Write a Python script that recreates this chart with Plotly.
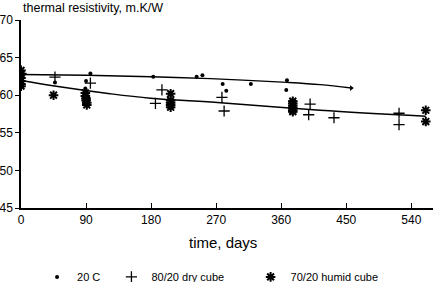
import plotly.graph_objects as go

# ---- data ----
c20_days = [0, 0, 0, 0, 47, 96, 90, 89, 183, 243, 251, 279, 284, 318, 368, 367]
c20_vals = [63.0, 62.5, 62.0, 61.6, 61.7, 62.9, 61.9, 60.9, 62.45, 62.45, 62.65, 61.5, 60.6, 61.5, 62.0, 60.7]

dry_days = [0, 47, 96, 195, 186, 278, 281, 400, 398, 433, 523, 523]
dry_vals = [62.9, 62.4, 61.6, 60.7, 58.9, 59.7, 57.9, 58.8, 57.4, 57.0, 57.6, 56.1]

humid_days = [0, 0, 0, 0, 0, 0, 45,
              89, 89, 90, 90, 91, 91,
              207, 207, 207, 207, 207,
              376, 376, 376, 376, 376, 376,
              560, 560]
humid_vals = [63.3, 62.8, 62.3, 61.9, 61.5, 61.2, 60.0,
              60.3, 59.9, 59.6, 59.3, 59.0, 58.7,
              60.2, 59.3, 59.0, 58.7, 58.4,
              59.2, 58.9, 58.6, 58.3, 58.0, 57.8,
              58.0, 56.5]

trend_upper_days = [0, 90, 180, 262, 368, 414, 457]
trend_upper_vals = [62.75, 62.65, 62.45, 62.2, 61.7, 61.4, 60.95]

trend_lower_days = [0, 44, 123, 179, 276, 414, 560]
trend_lower_vals = [61.95, 61.25, 60.2, 59.6, 59.0, 58.0, 57.2]

x_ticks = [0, 90, 180, 270, 360, 450, 540]
y_ticks = [45, 50, 55, 60, 65, 70]

FONT = "Liberation Sans"
NB = "\u00a0"

fig = go.Figure()

fig.add_trace(go.Scatter(x=trend_upper_days, y=trend_upper_vals, mode="lines",
                         line=dict(color="black", width=1.4, shape="spline"),
                         showlegend=False, hoverinfo="skip"))
fig.add_trace(go.Scatter(x=[trend_upper_days[-1]], y=[trend_upper_vals[-1]], mode="markers",
                         marker=dict(symbol="triangle-right", size=5, color="black"),
                         showlegend=False, hoverinfo="skip"))
fig.add_trace(go.Scatter(x=trend_lower_days, y=trend_lower_vals, mode="lines",
                         line=dict(color="black", width=1.4, shape="spline"),
                         showlegend=False, hoverinfo="skip"))

fig.add_trace(go.Scatter(x=c20_days, y=c20_vals, mode="markers", name="20 C" + NB * 2,
                         marker=dict(symbol="circle", size=4, color="black")))
fig.add_trace(go.Scatter(x=dry_days, y=dry_vals, mode="markers",
                         name="80/20 dry cube" + NB * 7,
                         marker=dict(symbol="cross-thin-open", size=8, color="black",
                                     line=dict(color="black", width=1.3))))
fig.add_trace(go.Scatter(x=humid_days, y=humid_vals, mode="markers", name="70/20 humid cube",
                         marker=dict(symbol="asterisk-open", size=8, color="black",
                                     line=dict(color="black", width=2))))

fig.update_layout(
    width=440, height=282,
    margin=dict(l=21, r=7, t=20, b=74),
    paper_bgcolor="white", plot_bgcolor="white",
    font=dict(family=FONT, color="black", size=12),
    xaxis=dict(range=[0, 570], tickvals=x_ticks, ticks="inside", ticklen=5,
               tickcolor="black", tickwidth=1.3, showline=True, linecolor="black",
               linewidth=1.5, showgrid=False, zeroline=False, automargin=False,
               tickfont=dict(size=12, family=FONT)),
    yaxis=dict(range=[45, 70], tickvals=y_ticks, ticks="outside", ticklen=4,
               tickcolor="black", tickwidth=1.3, showline=True, linecolor="black",
               linewidth=1.5, showgrid=False, zeroline=False, automargin=False,
               tickfont=dict(size=12, family=FONT)),
    legend=dict(orientation="h", x=0.039, xanchor="left",
                yref="container", y=0.018, yanchor="middle",
                font=dict(size=11, family=FONT),
                bgcolor="rgba(0,0,0,0)"),
    annotations=[
        dict(text="thermal resistivity, m.K/W", xref="paper", yref="paper",
             x=0.0, y=1.064, xanchor="left", yanchor="middle", showarrow=False,
             font=dict(size=12.5, family=FONT)),
        dict(text="time, days", xref="paper", yref="paper",
             x=0.49, y=-0.185, xanchor="center", yanchor="middle", showarrow=False,
             font=dict(size=15, family=FONT)),
    ],
)

fig.write_html("out.html")
